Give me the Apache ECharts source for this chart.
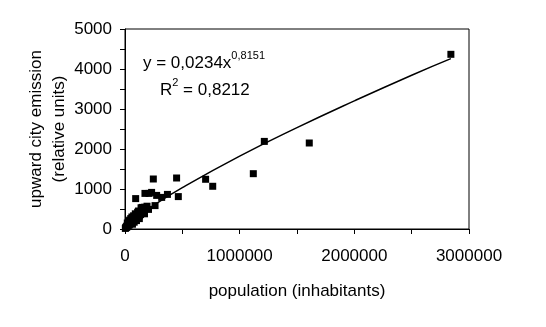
<!DOCTYPE html>
<html>
<head>
<meta charset="utf-8">
<script src="https://cdn.jsdelivr.net/npm/echarts@6/dist/echarts.min.js"></script>
<style>
  html, body { margin: 0; padding: 0; background: #fff; }
  #chart { width: 546px; height: 327px; }
</style>
</head>
<body>
<div id="chart"></div>
<script>
// cities: [population, upward emission]
const cityPoints = [
  [3000, 15], [6000, 30], [9000, 45], [12000, 40], [15000, 65], [18000, 55],
  [20000, 90], [24000, 75], [28000, 115], [31000, 95], [35000, 130], [38000, 105],
  [42000, 160], [46000, 135], [50000, 180], [55000, 150], [60000, 210], [64000, 185],
  [70000, 240], [74000, 200], [80000, 265], [85000, 230], [90000, 290], [95000, 250],
  [100000, 320], [105000, 280], [110000, 345], [116000, 305], [120000, 375], [126000, 330],
  [130000, 400], [136000, 360], [140000, 430], [146000, 405], [150000, 460], [156000, 390],
  [160000, 510], [166000, 475], [172000, 545], [182000, 520], [192000, 570], [205000, 490],
  [60000, 300], [90000, 380], [118000, 450], [140000, 530], [40000, 220], [75000, 330],
  [20000, 150], [30000, 190], [50000, 260], [65000, 120], [80000, 170], [100000, 210],
  [110000, 420], [125000, 260], [150000, 540], [170000, 380],
  [93000, 760], [174000, 890], [210000, 890], [232000, 915], [276000, 840], [320000, 790],
  [370000, 865], [465000, 810], [262000, 585], [247000, 1250], [450000, 1275],
  [703000, 1243], [765000, 1068], [1119000, 1383], [1215000, 2190], [1607000, 2150],
  [2842000, 4367]
]

// power trend line y = 0,0234x^0,8151, read at a few populations
const trendPoints = [
  [0, 0], [10000, 43], [50000, 158], [100000, 278], [250000, 588], [500000, 1034],
  [1000000, 1821], [1500000, 2533], [2000000, 3203], [2500000, 3845], [2842000, 4260]
]

const fontFamily = 'Liberation Sans, Arial, sans-serif'

// plain numbers, no thousands separator
const plain = v => String(v)

const chart = echarts.init(document.getElementById('chart'))
chart.setOption({
  animation: false,
  textStyle: { fontFamily: fontFamily, color: '#000' },
  grid: {
    left: 125, right: 77, top: 29, bottom: 98,
    show: true, borderColor: '#000', borderWidth: 1, backgroundColor: '#fff'
  },
  xAxis: {
    type: 'value',
    min: 0, max: 3000000, interval: 1000000,
    name: 'population (inhabitants)',
    nameLocation: 'middle', nameGap: 54, nameMoveOverlap: false,
    nameTextStyle: { fontSize: 17, color: '#000', fontFamily: fontFamily },
    axisLine: { show: true, lineStyle: { color: '#000', width: 1 } },
    axisTick: { show: true, inside: false, length: 5, lineStyle: { color: '#000' } },
    minorTick: { show: true, splitNumber: 2, length: 5, lineStyle: { color: '#000' } },
    axisLabel: { fontSize: 17, color: '#000', margin: 19, fontFamily: fontFamily, formatter: plain },
    splitLine: { show: false }
  },
  yAxis: {
    type: 'value',
    min: 0, max: 5000, interval: 1000,
    name: 'upward city emission\n(relative units)',
    nameLocation: 'middle', nameGap: 54, nameMoveOverlap: false,
    nameTextStyle: { fontSize: 17, color: '#000', lineHeight: 23, fontFamily: fontFamily },
    axisLine: { show: true, lineStyle: { color: '#000', width: 1 } },
    axisTick: { show: true, inside: false, length: 5, lineStyle: { color: '#000' } },
    minorTick: { show: true, splitNumber: 2, length: 5, lineStyle: { color: '#000' } },
    axisLabel: { fontSize: 17, color: '#000', margin: 13, fontFamily: fontFamily, formatter: plain },
    splitLine: { show: false }
  },
  graphic: [
    {
      type: 'text', left: 143, top: 50,
      style: {
        text: '{a|y = 0,0234x}{s|0,8151}',
        fill: '#000',
        rich: {
          a: { fontSize: 17, fontFamily: fontFamily, lineHeight: 22, verticalAlign: 'bottom' },
          s: { fontSize: 11, fontFamily: fontFamily, verticalAlign: 'top' }
        }
      }
    },
    {
      type: 'text', left: 160, top: 77,
      style: {
        text: '{a|R}{s|2}{a| = 0,8212}',
        fill: '#000',
        rich: {
          a: { fontSize: 17, fontFamily: fontFamily, lineHeight: 22, verticalAlign: 'bottom' },
          s: { fontSize: 11, fontFamily: fontFamily, verticalAlign: 'top' }
        }
      }
    }
  ],
  series: [
    {
      name: 'trend',
      type: 'line',
      data: trendPoints,
      smooth: true,
      showSymbol: false,
      lineStyle: { color: '#000', width: 1.5 },
      z: 2
    },
    {
      name: 'cities',
      type: 'scatter',
      data: cityPoints,
      symbol: 'rect',
      symbolSize: 7,
      itemStyle: { color: '#000', opacity: 1 },
      z: 3
    }
  ]
})
</script>
</body>
</html>
